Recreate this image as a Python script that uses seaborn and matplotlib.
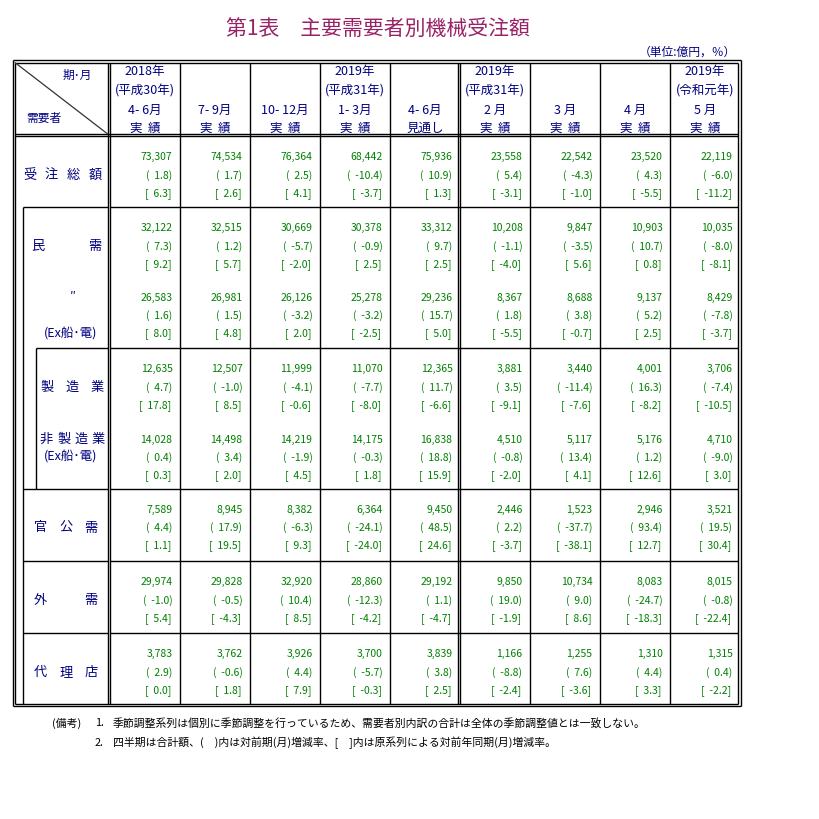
import numpy as np
import pandas as pd
import matplotlib
matplotlib.use("Agg")
import matplotlib.pyplot as plt
import seaborn as sns

# --- table data (億円, %) ---
periods_year = ["2018年", "", "", "2019年", "", "2019年", "", "", "2019年"]
periods_era = ["(平成30年)", "", "", "(平成31年)", "", "(平成31年)", "", "", "(令和元年)"]
periods_span = ["4- 6月", "7- 9月", "10- 12月", "1- 3月", "4- 6月", "2 月", "3 月", "4 月", "5 月"]
periods_kind = ["実  績", "実  績", "実  績", "実  績", "見通し", "実  績", "実  績", "実  績", "実  績"]

segments = ["受注総額", "民需", "民需(Ex船・電)", "製造業", "非製造業(Ex船・電)", "官公需", "外需", "代理店"]

levels = [
    [73307, 74534, 76364, 68442, 75936, 23558, 22542, 23520, 22119],
    [32122, 32515, 30669, 30378, 33312, 10208, 9847, 10903, 10035],
    [26583, 26981, 26126, 25278, 29236, 8367, 8688, 9137, 8429],
    [12635, 12507, 11999, 11070, 12365, 3881, 3440, 4001, 3706],
    [14028, 14498, 14219, 14175, 16838, 4510, 5117, 5176, 4710],
    [7589, 8945, 8382, 6364, 9450, 2446, 1523, 2946, 3521],
    [29974, 29828, 32920, 28860, 29192, 9850, 10734, 8083, 8015],
    [3783, 3762, 3926, 3700, 3839, 1166, 1255, 1310, 1315],
]
mom_change = [
    [1.8, 1.7, 2.5, -10.4, 10.9, 5.4, -4.3, 4.3, -6.0],
    [7.3, 1.2, -5.7, -0.9, 9.7, -1.1, -3.5, 10.7, -8.0],
    [1.6, 1.5, -3.2, -3.2, 15.7, 1.8, 3.8, 5.2, -7.8],
    [4.7, -1.0, -4.1, -7.7, 11.7, 3.5, -11.4, 16.3, -7.4],
    [0.4, 3.4, -1.9, -0.3, 18.8, -0.8, 13.4, 1.2, -9.0],
    [4.4, 17.9, -6.3, -24.1, 48.5, 2.2, -37.7, 93.4, 19.5],
    [-1.0, -0.5, 10.4, -12.3, 1.1, 19.0, 9.0, -24.7, -0.8],
    [2.9, -0.6, 4.4, -5.7, 3.8, -8.8, 7.6, 4.4, 0.4],
]
yoy_change = [
    [6.3, 2.6, 4.1, -3.7, 1.3, -3.1, -1.0, -5.5, -11.2],
    [9.2, 5.7, -2.0, 2.5, 2.5, -4.0, 5.6, 0.8, -8.1],
    [8.0, 4.8, 2.0, -2.5, 5.0, -5.5, -0.7, 2.5, -3.7],
    [17.8, 8.5, -0.6, -8.0, -6.6, -9.1, -7.6, -8.2, -10.5],
    [0.3, 2.0, 4.5, 1.8, 15.9, -2.0, 4.1, 12.6, 3.0],
    [1.1, 19.5, 9.3, -24.0, 24.6, -3.7, -38.1, 12.7, 30.4],
    [5.4, -4.3, 8.5, -4.2, -4.7, -1.9, 8.6, -18.3, -22.4],
    [0.0, 1.8, 7.9, -0.3, 2.5, -2.4, -3.6, 3.3, -2.2],
]

title = "第1表　主要需要者別機械受注額"
unit = "（単位:億円，％）"
notes = [
    ("(備考)", "1.", "季節調整系列は個別に季節調整を行っているため、需要者別内訳の合計は全体の季節調整値とは一致しない。"),
    ("", "2.", "四半期は合計額、(　)内は対前期(月)増減率、[　]内は原系列による対前年同期(月)増減率。"),
]

# --- style ---
sns.set_theme(style="white")
plt.rcParams['font.family'] = ['Noto Sans CJK JP', 'DejaVu Sans']
NAVY = "#000080"
GREEN = "#008000"
TITLE_C = "#992266"

# --- layout (pixel grid) ---
fig = plt.figure(figsize=(8.19, 8.20), dpi=100)
ax = fig.add_axes([0, 0, 1, 1])
ax.set_xlim(0, 819)
ax.set_ylim(820, 0)
ax.axis("off")

col0, col_w = 110.0, 70.0
ncol = len(periods_span)
col_edges = col0 + col_w * np.arange(ncol + 1)
row_tops = [137.3, 208.3, 278.0, 349.3, 419.5, 490.0, 562.3, 634.3]
top, bottom, left, right = 61.3, 704.8, 12.7, 738.3
gap = 2.3
lw = 1.0

def hl(y, x0, x1, w=lw):
    ax.plot([x0, x1], [y, y], color="black", lw=w, solid_capstyle="butt")

def vl(x, y0, y1, w=lw):
    ax.plot([x, x], [y0, y1], color="black", lw=w, solid_capstyle="butt")

# outer double frame
for d in (0, gap):
    hl(top + d, left + d, right + gap - d)
    hl(bottom + gap - d, left + d, right + gap - d)
    vl(left + d, top + d, bottom + gap - d)
    vl(right + gap - d, top + d, bottom + gap - d)
# double dividers
for d in (0, gap):
    vl(col_edges[0] - gap + d, top + gap, bottom)
    vl(col_edges[5] - gap + d, top + gap, bottom)
    hl(135.0 + d, left + gap, right)
# single column lines
for k in [1, 2, 3, 4, 6, 7, 8]:
    vl(col_edges[k] - 0.5, top + gap, bottom)
# group lines
group_lines = [(208.3, 23.3), (349.3, 36.0), (490.0, 23.3), (562.3, 23.3), (634.3, 23.3)]
for y, xs in group_lines:
    hl(y, xs, col_edges[0] - gap)
    hl(y, col_edges[0], right)
vl(23.3, 208.3, bottom)
vl(36.0, 349.3, 490.0)
# header diagonal
ax.plot([left + gap, col_edges[0] - gap], [top + gap, 135.0], color="#333333", lw=0.9)

# title, unit
ax.text(378, 29, title, color=TITLE_C, fontsize=15, ha="center", va="center")
ax.text(736, 52, unit, color=NAVY, fontsize=8.5, ha="right", va="center")

# header
ax.text(77.5, 75, "期･月", color=NAVY, fontsize=8.5, ha="center", va="center")
ax.text(43.5, 118, "需要者", color=NAVY, fontsize=8.5, ha="center", va="center")
head_y = [72, 91, 110, 128]
for j in range(ncol):
    cx = (col_edges[j] + col_edges[j + 1]) / 2
    for y, s in zip(head_y, [periods_year[j], periods_era[j], periods_span[j], periods_kind[j]]):
        if s:
            ax.text(cx, y, s, color=NAVY, fontsize=9, ha="center", va="center")

def spread(chars, x0, x1, y, size=9.5):
    xs = np.linspace(x0, x1, len(chars))
    for c, x in zip(chars, xs):
        ax.text(x, y, c, color=NAVY, fontsize=size, ha="center", va="center")

pitch = 18.0
first = [t + 20 for t in row_tops]
spread("受注総額", 29.5, 95.5, first[0] + pitch)
spread("民需", 37.5, 95.0, first[1] + pitch)
ax.text(73, first[2], "″", color=NAVY, fontsize=9, ha="center", va="center")
ax.text(71, first[2] + 2 * pitch, "(Ex船･電)", color=NAVY, fontsize=9, ha="center", va="center")
spread("製造業", 47.5, 97.5, first[3] + pitch)
spread("非製造業", 46.5, 98.0, first[4])
ax.text(71, first[4] + pitch, "(Ex船･電)", color=NAVY, fontsize=9, ha="center", va="center")
spread("官公需", 40.5, 91.0, first[5] + pitch)
spread("外需", 40.5, 91.0, first[6] + pitch)
spread("代理店", 40.5, 91.0, first[7] + pitch)

# data cells
for i in range(len(segments)):
    for j in range(ncol):
        x = col_edges[j + 1] - 7.5
        y = first[i]
        ax.text(x, y, f"{levels[i][j]:,}", color=GREEN, fontsize=7.5, ha="right", va="center")
        ax.text(x, y + pitch, f"(  {mom_change[i][j]:.1f})", color=GREEN, fontsize=7.5, ha="right", va="center")
        ax.text(x - 1, y + 2 * pitch, f"[  {yoy_change[i][j]:.1f}]", color=GREEN, fontsize=7.5, ha="right", va="center")

# notes
for k, (tag, num, body) in enumerate(notes):
    y = 723 + 20 * k
    if tag:
        ax.text(52, y, tag, color="black", fontsize=7.8, ha="left", va="center")
    ax.text(95, y, num, color="black", fontsize=7.8, ha="left", va="center")
    ax.text(113, y, body, color="black", fontsize=7.8, ha="left", va="center")

fig.savefig("out.png", dpi=100, facecolor="white")
